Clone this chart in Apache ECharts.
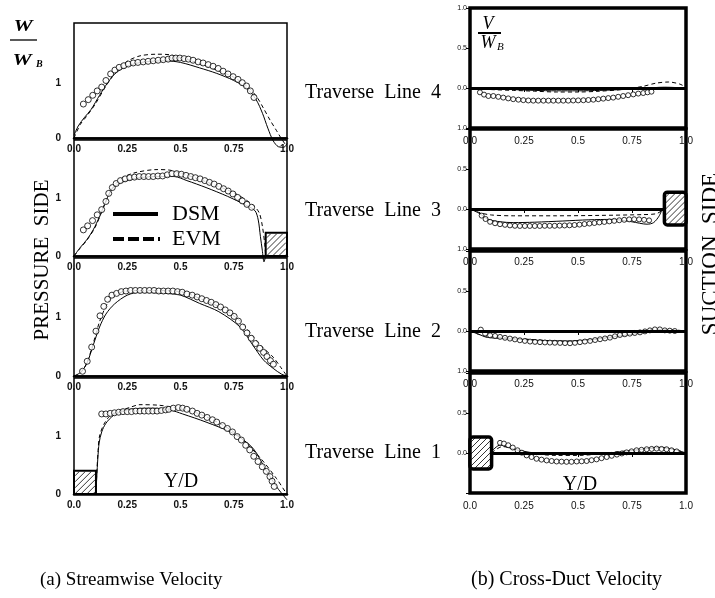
<!DOCTYPE html>
<html><head><meta charset="utf-8">
<script src="https://cdn.jsdelivr.net/npm/echarts@6/dist/echarts.min.js"></script>
<style>html,body{margin:0;padding:0;background:#fff}#c{width:715px;height:598px}</style>
</head><body><div id="c"></div>
<script>
// ---------- tick labels ----------
const xTickLabels = ['0.0','0.25','0.5','0.75','1.0'];          // at 0,0.25,0.5,0.75,1
const leftYTickLabels = ['0','1'];                               // at 0,1
const rightYTickLabels = ['1.0','0.0','0.5','1.0'];              // at -0.5,0,0.5,1.0
const traverseLabels = ['Traverse  Line  4','Traverse  Line  3','Traverse  Line  2','Traverse  Line  1'];

// ---------- (a) streamwise velocity W/WB ----------
const expA4 = [[0.044,0.62],[0.067,0.70],[0.088,0.78],[0.109,0.86],[0.130,0.93],[0.150,1.05],[0.172,1.17],[0.192,1.24],[0.212,1.29],[0.234,1.32],[0.255,1.35],[0.278,1.37],[0.300,1.38],[0.325,1.39],[0.348,1.40],[0.372,1.41],[0.395,1.42],[0.419,1.43],[0.442,1.44],[0.460,1.46],[0.478,1.46],[0.497,1.46],[0.517,1.45],[0.537,1.44],[0.559,1.42],[0.583,1.39],[0.606,1.37],[0.630,1.34],[0.653,1.31],[0.677,1.27],[0.700,1.22],[0.723,1.17],[0.747,1.12],[0.770,1.07],[0.790,1.01],[0.810,0.95],[0.828,0.86],[0.845,0.74]];
const dsmA4 = [[0,0.05],[0.02,0.22],[0.05,0.38],[0.08,0.52],[0.12,0.78],[0.16,1.02],[0.20,1.20],[0.25,1.31],[0.30,1.37],[0.36,1.40],[0.43,1.41],[0.50,1.38],[0.59,1.28],[0.67,1.18],[0.75,1.05],[0.81,0.91],[0.855,0.70],[0.885,0.45],[0.91,0.18],[0.935,-0.05],[0.96,-0.16],[0.985,-0.17],[1.0,-0.10]];
const evmA4 = [[0,0.0],[0.03,0.25],[0.06,0.40],[0.10,0.62],[0.15,0.95],[0.20,1.22],[0.25,1.40],[0.31,1.50],[0.39,1.53],[0.45,1.52],[0.50,1.47],[0.59,1.36],[0.67,1.24],[0.75,1.11],[0.82,0.92],[0.86,0.74],[0.89,0.54],[0.92,0.33],[0.95,0.14],[0.975,-0.02],[1.0,-0.16]];

const expA3 = [[0.044,0.45],[0.064,0.52],[0.087,0.61],[0.109,0.71],[0.130,0.80],[0.150,0.94],[0.163,1.08],[0.180,1.18],[0.198,1.25],[0.218,1.30],[0.240,1.33],[0.262,1.35],[0.284,1.36],[0.306,1.37],[0.328,1.37],[0.350,1.37],[0.372,1.37],[0.394,1.38],[0.416,1.38],[0.438,1.40],[0.460,1.42],[0.482,1.42],[0.504,1.41],[0.526,1.39],[0.548,1.37],[0.570,1.35],[0.592,1.33],[0.614,1.30],[0.636,1.27],[0.658,1.24],[0.680,1.20],[0.702,1.16],[0.724,1.12],[0.746,1.07],[0.768,1.01],[0.790,0.95],[0.812,0.89],[0.834,0.84]];
const dsmA3 = [[0,0],[0.03,0.15],[0.06,0.28],[0.09,0.45],[0.12,0.68],[0.15,0.95],[0.18,1.16],[0.23,1.28],[0.31,1.35],[0.40,1.37],[0.47,1.37],[0.53,1.30],[0.62,1.18],[0.72,1.03],[0.81,0.87],[0.85,0.78],[0.865,0.62],[0.875,0.34],[0.884,0.10],[0.892,-0.10],[0.90,0.0]];
const evmA3 = [[0,0],[0.03,0.14],[0.06,0.27],[0.10,0.50],[0.14,0.85],[0.18,1.17],[0.22,1.33],[0.28,1.43],[0.39,1.49],[0.45,1.48],[0.50,1.43],[0.59,1.32],[0.75,1.09],[0.84,0.88],[0.87,0.74],[0.885,0.50],[0.895,0.22],[0.90,0.0]];

const expA2 = [[0.040,0.08],[0.062,0.25],[0.083,0.49],[0.103,0.76],[0.122,1.02],[0.140,1.18],[0.158,1.30],[0.178,1.37],[0.200,1.40],[0.222,1.43],[0.244,1.44],[0.266,1.45],[0.288,1.45],[0.310,1.45],[0.332,1.45],[0.354,1.45],[0.376,1.45],[0.398,1.44],[0.420,1.44],[0.442,1.44],[0.464,1.44],[0.486,1.43],[0.508,1.42],[0.530,1.39],[0.555,1.37],[0.578,1.34],[0.600,1.31],[0.622,1.28],[0.644,1.25],[0.666,1.21],[0.688,1.17],[0.710,1.12],[0.732,1.07],[0.752,1.01],[0.772,0.93],[0.792,0.83],[0.812,0.73],[0.832,0.64],[0.852,0.55],[0.872,0.47],[0.890,0.40],[0.906,0.33],[0.922,0.26],[0.936,0.20]];
const dsmA2 = [[0,0],[0.03,0.06],[0.06,0.21],[0.09,0.52],[0.12,0.83],[0.15,1.05],[0.19,1.22],[0.25,1.37],[0.31,1.42],[0.43,1.40],[0.50,1.37],[0.59,1.23],[0.68,1.09],[0.78,0.83],[0.84,0.52],[0.89,0.27],[0.935,0.13],[0.975,0.03],[1.0,0.0]];
const evmA2 = [[0,0],[0.03,0.05],[0.06,0.22],[0.09,0.55],[0.12,0.92],[0.16,1.25],[0.20,1.39],[0.25,1.44],[0.35,1.45],[0.50,1.43],[0.60,1.30],[0.70,1.14],[0.78,0.93],[0.84,0.67],[0.89,0.47],[0.935,0.32],[0.97,0.15],[1.0,0.0]];

const expA1 = [[0.130,1.38],[0.150,1.38],[0.170,1.39],[0.190,1.40],[0.210,1.41],[0.230,1.42],[0.250,1.42],[0.270,1.42],[0.290,1.43],[0.310,1.43],[0.330,1.43],[0.350,1.43],[0.370,1.43],[0.390,1.43],[0.410,1.44],[0.430,1.45],[0.445,1.46],[0.466,1.48],[0.490,1.49],[0.510,1.48],[0.530,1.46],[0.556,1.43],[0.578,1.39],[0.600,1.36],[0.625,1.32],[0.650,1.28],[0.670,1.24],[0.697,1.18],[0.720,1.13],[0.744,1.07],[0.766,0.99],[0.786,0.93],[0.806,0.84],[0.825,0.76],[0.844,0.65],[0.864,0.56],[0.884,0.47],[0.903,0.39],[0.920,0.30],[0.930,0.22],[0.940,0.13]];
const dsmA1 = [[0.103,0],[0.107,0.30],[0.112,0.62],[0.118,0.88],[0.13,1.07],[0.15,1.22],[0.184,1.35],[0.23,1.43],[0.28,1.47],[0.37,1.48],[0.45,1.45],[0.51,1.38],[0.62,1.24],[0.75,1.04],[0.84,0.79],[0.90,0.42],[0.95,0.13],[0.973,0.02],[1.0,-0.10]];
const evmA1 = [[0.103,0],[0.107,0.35],[0.113,0.75],[0.12,1.00],[0.14,1.20],[0.17,1.35],[0.22,1.44],[0.26,1.49],[0.31,1.54],[0.40,1.53],[0.47,1.49],[0.59,1.38],[0.75,1.07],[0.87,0.64],[0.95,0.27],[0.99,0.05],[1.0,0.0]];

// ---------- (b) cross-duct velocity V/WB ----------
const expB4 = [[0.046,-0.054],[0.065,-0.083],[0.085,-0.10],[0.108,-0.10],[0.131,-0.11],[0.154,-0.12],[0.177,-0.13],[0.200,-0.14],[0.224,-0.146],[0.247,-0.152],[0.270,-0.156],[0.293,-0.158],[0.316,-0.158],[0.340,-0.158],[0.363,-0.158],[0.386,-0.158],[0.409,-0.158],[0.432,-0.158],[0.455,-0.158],[0.478,-0.156],[0.501,-0.155],[0.525,-0.153],[0.548,-0.150],[0.571,-0.146],[0.594,-0.140],[0.617,-0.133],[0.640,-0.126],[0.663,-0.120],[0.686,-0.110],[0.709,-0.100],[0.732,-0.090],[0.756,-0.080],[0.779,-0.070],[0.802,-0.063],[0.822,-0.054],[0.840,-0.046]];
const dsmB4 = [[0,0],[0.1,-0.01],[0.2,-0.02],[0.3,-0.03],[0.4,-0.035],[0.5,-0.035],[0.6,-0.03],[0.7,-0.02],[0.8,-0.005],[0.9,0.01],[1.0,0.0]];
const evmB4 = [[0,0],[0.1,-0.02],[0.2,-0.03],[0.3,-0.04],[0.4,-0.05],[0.5,-0.05],[0.6,-0.04],[0.7,-0.02],[0.8,0.02],[0.86,0.06],[0.92,0.075],[0.97,0.05],[1.0,0.01]];

const expB3 = [[0.054,-0.083],[0.072,-0.125],[0.093,-0.160],[0.116,-0.178],[0.139,-0.190],[0.162,-0.198],[0.185,-0.205],[0.208,-0.210],[0.231,-0.212],[0.254,-0.212],[0.277,-0.212],[0.300,-0.212],[0.323,-0.212],[0.346,-0.210],[0.369,-0.210],[0.392,-0.210],[0.415,-0.208],[0.438,-0.206],[0.461,-0.204],[0.484,-0.200],[0.507,-0.195],[0.530,-0.188],[0.553,-0.182],[0.576,-0.175],[0.599,-0.168],[0.622,-0.162],[0.645,-0.155],[0.668,-0.148],[0.691,-0.141],[0.714,-0.135],[0.737,-0.130],[0.760,-0.128],[0.783,-0.130],[0.806,-0.135],[0.829,-0.142]];
const dsmB3 = [[0,0],[0.04,-0.05],[0.085,-0.13],[0.14,-0.16],[0.2,-0.17],[0.3,-0.165],[0.43,-0.15],[0.55,-0.135],[0.66,-0.13],[0.75,-0.16],[0.82,-0.19],[0.85,-0.17],[0.875,-0.09],[0.89,0.0]];
const evmB3 = [[0,0],[0.05,-0.05],[0.1,-0.075],[0.2,-0.085],[0.4,-0.085],[0.6,-0.08],[0.8,-0.07],[0.86,-0.06],[0.89,-0.02],[0.9,0.0]];

const expB2 = [[0.050,0.017],[0.070,-0.033],[0.093,-0.054],[0.116,-0.062],[0.139,-0.074],[0.162,-0.085],[0.185,-0.095],[0.208,-0.105],[0.231,-0.116],[0.254,-0.124],[0.278,-0.132],[0.301,-0.136],[0.324,-0.140],[0.347,-0.143],[0.370,-0.145],[0.393,-0.147],[0.417,-0.149],[0.440,-0.151],[0.463,-0.153],[0.486,-0.148],[0.509,-0.140],[0.532,-0.132],[0.556,-0.124],[0.579,-0.113],[0.602,-0.103],[0.625,-0.093],[0.648,-0.083],[0.671,-0.066],[0.694,-0.050],[0.717,-0.041],[0.740,-0.033],[0.763,-0.025],[0.787,-0.017],[0.810,-0.005],[0.833,0.008],[0.856,0.020],[0.879,0.020],[0.902,0.008],[0.925,0.004],[0.948,0.0]];
const dsmB2 = [[0,0],[0.04,-0.04],[0.08,-0.08],[0.2,-0.10],[0.3,-0.115],[0.45,-0.125],[0.55,-0.11],[0.7,-0.06],[0.8,-0.02],[0.87,0.01],[0.93,0.005],[1.0,0.0]];
const evmB2 = [[0,0],[0.05,-0.05],[0.1,-0.07],[0.25,-0.10],[0.45,-0.13],[0.6,-0.10],[0.75,-0.04],[0.85,0.02],[0.9,0.02],[1.0,0.0]];

const expB1 = [[0.139,0.127],[0.157,0.118],[0.177,0.097],[0.198,0.068],[0.220,0.034],[0.240,0.004],[0.262,-0.030],[0.285,-0.050],[0.308,-0.072],[0.331,-0.083],[0.355,-0.093],[0.378,-0.100],[0.401,-0.106],[0.424,-0.108],[0.447,-0.110],[0.470,-0.110],[0.494,-0.106],[0.517,-0.104],[0.540,-0.100],[0.563,-0.090],[0.586,-0.080],[0.609,-0.065],[0.633,-0.050],[0.656,-0.035],[0.680,-0.020],[0.703,-0.006],[0.725,0.008],[0.748,0.021],[0.771,0.034],[0.794,0.040],[0.818,0.047],[0.841,0.051],[0.864,0.055],[0.887,0.051],[0.910,0.047],[0.933,0.034],[0.957,0.020]];
const dsmB1 = [[0.1,0.02],[0.14,0.10],[0.2,0.05],[0.3,0.0],[0.45,-0.02],[0.6,-0.01],[0.75,0.03],[0.88,0.07],[0.95,0.04],[1.0,0.0]];
const evmB1 = [[0.1,0.0],[0.15,0.08],[0.25,0.01],[0.4,-0.03],[0.5,-0.03],[0.7,0.02],[0.9,0.065],[1.0,0.0]];

// blade / obstacle boxes [x0, x1, y0, y1]
const boxA3 = [0.9, 1.0, 0, 0.4];
const boxA1 = [0, 0.103, 0, 0.4];
const boxB3 = [0.9, 1.0, -0.2, 0.21];
const boxB1 = [0, 0.1, -0.2, 0.2];

// ---------- build ----------
const SERIF = '"Liberation Serif", "Times New Roman", serif';
const SANS = '"Liberation Sans", Arial, sans-serif';
const leftPos = [{top:23,height:115,max:2.1},{top:140,height:116,max:2},{top:258,height:118,max:2},{top:378,height:116,max:2}];
const rightPos = [{top:8,height:120},{top:129,height:120},{top:251,height:120},{top:373,height:120}];
const leftData = [[expA4,dsmA4,evmA4,null],[expA3,dsmA3,evmA3,boxA3],[expA2,dsmA2,evmA2,null],[expA1,dsmA1,evmA1,boxA1]];
const rightData = [[expB4,dsmB4,evmB4,null],[expB3,dsmB3,evmB3,boxB3],[expB2,dsmB2,evmB2,null],[expB1,dsmB1,evmB1,boxB1]];

const grid=[], xAxis=[], yAxis=[], series=[];
function xLab(v){ return xTickLabels[Math.round(v/0.25)]; }

function boxSeries(box, gi, lw, rr){
  return {type:'custom', xAxisIndex:gi, yAxisIndex:gi, data:[box], z:6, clip:false, silent:true,
    renderItem:function(params, api){
      const p0 = api.coord([api.value(0), api.value(3)]);
      const p1 = api.coord([api.value(1), api.value(2)]);
      const x0=p0[0], y0=p0[1], x1=p1[0], y1=p1[1];
      const ch=[{type:'rect', shape:{x:x0,y:y0,width:x1-x0,height:y1-y0,r:rr}, style:{fill:'#fff', stroke:null}}];
      const step=6;
      for(let c=x0+y0+step; c<x1+y1; c+=step){
        const xa=Math.max(x0+1,c-y1+1), xb=Math.min(x1-1,c-y0-1);
        if(xb>xa) ch.push({type:'line', shape:{x1:xa,y1:c-xa,x2:xb,y2:c-xb}, style:{stroke:'#000', lineWidth:0.8}});
      }
      ch.push({type:'rect', shape:{x:x0,y:y0,width:x1-x0,height:y1-y0,r:rr}, style:{fill:null, stroke:'#000', lineWidth:lw}});
      return {type:'group', children:ch};
    }};
}

leftPos.forEach((p,i)=>{
  const gi=i;
  grid.push({left:74, width:213, top:p.top, height:p.height, show:true, borderColor:'#000', borderWidth:1.5, backgroundColor:'transparent'});
  xAxis.push({type:'value', gridIndex:gi, min:0, max:1, interval:0.25,
    axisLine:{show:true, lineStyle:{color:'#000', width:2.5}}, axisTick:{show:false}, splitLine:{show:false},
    axisLabel:{show:true, margin:6, fontSize:10, fontFamily:SANS, color:'#111', fontWeight:'bold', formatter:xLab}});
  yAxis.push({type:'value', gridIndex:gi, min:0, max:p.max, interval:1,
    axisLine:{show:false}, axisTick:{show:false}, splitLine:{show:false},
    axisLabel:{show:true, margin:13, fontSize:10, fontFamily:SANS, color:'#111', fontWeight:'bold',
      formatter:function(v){ return v===0?leftYTickLabels[0]:(v===1?leftYTickLabels[1]:''); }}});
  const d=leftData[i];
  series.push({type:'line', xAxisIndex:gi, yAxisIndex:gi, data:d[2], showSymbol:false, smooth:0.3, clip:false, silent:true,
    lineStyle:{color:'#000', width:1, type:[4,3]}, z:3});
  series.push({type:'line', xAxisIndex:gi, yAxisIndex:gi, data:d[1], showSymbol:false, smooth:0.3, clip:false, silent:true,
    lineStyle:{color:'#000', width:1, type:'solid'}, z:3});
  series.push({type:'scatter', xAxisIndex:gi, yAxisIndex:gi, data:d[0], symbol:'circle', symbolSize:6, silent:true,
    itemStyle:{color:'#fff', borderColor:'#000', borderWidth:1}, z:4});
  if(d[3]) series.push(boxSeries(d[3], gi, 2, 0));
});

rightPos.forEach((p,i)=>{
  const gi=4+i;
  grid.push({left:470, width:216, top:p.top, height:p.height, show:true, borderColor:'#000', borderWidth:3.5, backgroundColor:'transparent'});
  xAxis.push({type:'value', gridIndex:gi, min:0, max:1, interval:0.25,
    axisLine:{show:false}, axisTick:{show:true, length:4, lineStyle:{color:'#000', width:1}}, splitLine:{show:false},
    axisLabel:{show:true, margin:8, fontSize:10, fontFamily:SANS, color:'#111', formatter:xLab}});
  yAxis.push({type:'value', gridIndex:gi, min:-0.5, max:1.0, interval:0.5,
    axisLine:{show:false}, axisTick:{show:true, length:4, lineStyle:{color:'#000', width:1}}, splitLine:{show:false},
    axisLabel:{show:true, margin:3, fontSize:7, fontFamily:SANS, color:'#111',
      formatter:function(v){
        const k=Math.round((v+0.5)/0.5);
        if(k===0 && i===3) return '';
        if(k===3 && i!==0) return '';
        return rightYTickLabels[k];
      }}});
  const d=rightData[i];
  series.push({type:'line', xAxisIndex:gi, yAxisIndex:gi, data:d[2], showSymbol:false, smooth:0.3, clip:false, silent:true,
    lineStyle:{color:'#000', width:1, type:[4,3]}, z:3});
  series.push({type:'line', xAxisIndex:gi, yAxisIndex:gi, data:d[1], showSymbol:false, smooth:0.3, clip:false, silent:true,
    lineStyle:{color:'#000', width:1, type:'solid'}, z:3});
  series.push({type:'scatter', xAxisIndex:gi, yAxisIndex:gi, data:d[0], symbol:'circle', symbolSize:5, silent:true,
    itemStyle:{color:'#fff', borderColor:'#000', borderWidth:1}, z:4,
    markLine:{silent:true, symbol:['none','none'], label:{show:false}, animation:false,
      lineStyle:{color:'#000', width:3, type:'solid'}, data:[{yAxis:0}]}});
  if(d[3]) series.push(boxSeries(d[3], gi, 3.5, 3));
});

function txt(text, x, y, font, opts){
  return Object.assign({type:'text', x:x, y:y, silent:true,
    style:Object.assign({text:text, font:font, fill:'#000', align:'left', verticalAlign:'middle', textAlign:'left', textVerticalAlign:'middle'}, (opts&&opts.style)||{})},
    (opts&&opts.el)||{});
}
const C={align:'center', textAlign:'center'};
const graphic=[
  // W / W_B
  txt('W', 23, 27, 'italic bold 16px '+SERIF, {style:C, el:{scaleX:1.35}}),
  {type:'line', shape:{x1:10,y1:40,x2:37,y2:40}, style:{stroke:'#000', lineWidth:1.3}, silent:true},
  txt('W', 22, 61, 'italic bold 16px '+SERIF, {style:C, el:{scaleX:1.35}}),
  txt('B', 36, 64, 'italic bold 10px '+SERIF),
  // V / W_B
  txt('V', 488, 24, 'italic 18px '+SERIF, {style:C}),
  {type:'line', shape:{x1:478,y1:33,x2:501,y2:33}, style:{stroke:'#000', lineWidth:2}, silent:true},
  txt('W', 488, 43, 'italic 18px '+SERIF, {style:C}),
  txt('B', 497, 47, 'italic 11px '+SERIF),
  // traverse labels
  txt(traverseLabels[0], 305, 93, '20px '+SERIF),
  txt(traverseLabels[1], 305, 211, '20px '+SERIF),
  txt(traverseLabels[2], 305, 332, '20px '+SERIF),
  txt(traverseLabels[3], 305, 453, '20px '+SERIF),
  // legend
  {type:'line', shape:{x1:113,y1:214,x2:158,y2:214}, style:{stroke:'#000', lineWidth:4}, silent:true},
  {type:'line', shape:{x1:113,y1:239,x2:160,y2:239}, style:{stroke:'#000', lineWidth:4, lineDash:[11,4]}, silent:true},
  txt('DSM', 172, 214, '22px '+SERIF),
  txt('EVM', 172, 239, '22px '+SERIF),
  // Y/D
  txt('Y/D', 181, 482, '20px '+SERIF, {style:C}),
  txt('Y/D', 580, 485, '20px '+SERIF, {style:C}),
  // side labels
  txt('PRESSURE  SIDE', 42, 260, '21px '+SERIF, {style:C, el:{rotation:Math.PI/2}}),
  txt('SUCTION  SIDE', 711, 254, '23px '+SERIF, {style:C, el:{rotation:Math.PI/2}}),
  // captions
  txt('(a) Streamwise Velocity', 40, 580, '19px '+SERIF),
  txt('(b) Cross-Duct Velocity', 471, 580, '20px '+SERIF)
];

const chart = echarts.init(document.getElementById('c'), null, {renderer:'canvas'});
chart.setOption({animation:false, backgroundColor:'#fff', grid:grid, xAxis:xAxis, yAxis:yAxis, series:series, graphic:graphic});
</script></body></html>
